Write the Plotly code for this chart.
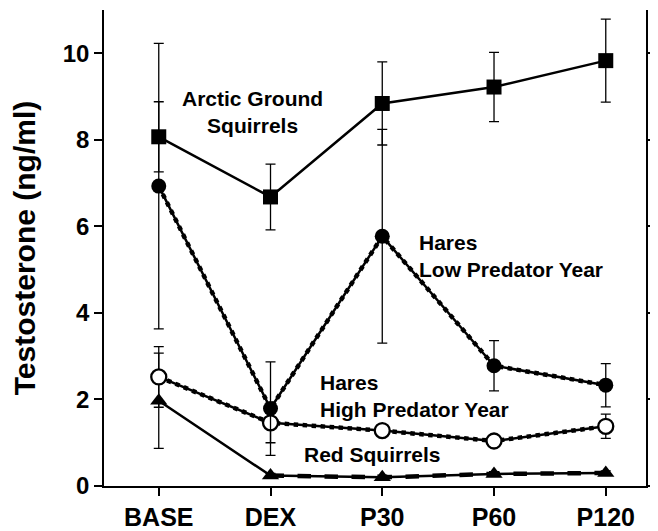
import plotly.graph_objects as go

categories = ["BASE", "DEX", "P30", "P60", "P120"]

arctic_gs = [8.07, 6.68, 8.84, 9.22, 9.83]
arctic_gs_err = [0.81, 0.76, 0.96, 0.80, 0.96]

hares_low = [6.93, 1.79, 5.77, 2.78, 2.33]
hares_low_err = [3.30, 1.08, 2.47, 0.58, 0.50]

hares_high = [2.52, 1.46, 1.28, 1.04, 1.38]
hares_high_err = [0.70, 0.46, 0.10, 0.10, 0.28]

red_sq = [1.97, 0.24, 0.20, 0.28, 0.30]
red_sq_err = [1.10, 0.05, 0.05, 0.05, 0.05]

y_ticks = [0, 2, 4, 6, 8, 10]

FONT = "Liberation Sans, Arial, Helvetica, sans-serif"
BLACK = "#000000"

fig = go.Figure()

def err(vals):
    return dict(type="data", array=vals, visible=True, color=BLACK, thickness=1.3, width=5)

# hatched "shadow" lines behind the hare / red squirrel curves
fig.add_trace(go.Scatter(x=categories, y=hares_low, mode="lines",
                         line=dict(color=BLACK, width=4.5, dash="dot"), hoverinfo="skip", showlegend=False))
fig.add_trace(go.Scatter(x=categories, y=hares_high, mode="lines",
                         line=dict(color=BLACK, width=4.5, dash="dot"), hoverinfo="skip", showlegend=False))
fig.add_trace(go.Scatter(x=categories, y=[None] + red_sq[1:], mode="lines",
                         line=dict(color=BLACK, width=4.5, dash="dash"), hoverinfo="skip", showlegend=False))

fig.add_trace(go.Scatter(
    x=categories, y=red_sq, mode="lines+markers", name="Red Squirrels",
    line=dict(color=BLACK, width=2.5),
    marker=dict(symbol="triangle-up", size=15, color=BLACK),
    error_y=err(red_sq_err), showlegend=False))

fig.add_trace(go.Scatter(
    x=categories, y=hares_high, mode="lines+markers", name="Hares High Predator Year",
    line=dict(color=BLACK, width=2.5),
    marker=dict(symbol="circle", size=15, color="white", line=dict(color=BLACK, width=2.3)),
    error_y=err(hares_high_err), showlegend=False))

fig.add_trace(go.Scatter(
    x=categories, y=hares_low, mode="lines+markers", name="Hares Low Predator Year",
    line=dict(color=BLACK, width=2.5),
    marker=dict(symbol="circle", size=15, color=BLACK),
    error_y=err(hares_low_err), showlegend=False))

fig.add_trace(go.Scatter(
    x=categories, y=arctic_gs, mode="lines+markers", name="Arctic Ground Squirrels",
    line=dict(color=BLACK, width=2.5),
    marker=dict(symbol="square", size=15, color=BLACK),
    error_y=err(arctic_gs_err), showlegend=False))

ann_font = dict(family=FONT, size=21, color=BLACK, weight="bold")
fig.add_annotation(x=0.835, y=8.64, text="Arctic Ground<br>Squirrels", showarrow=False,
                   xanchor="center", yanchor="middle", align="center", font=ann_font)
fig.add_annotation(x=2.31, y=5.32, text="Hares<br>Low Predator Year", showarrow=False,
                   xanchor="left", yanchor="middle", align="left", font=ann_font)
fig.add_annotation(x=1.425, y=2.08, text="Hares<br>High Predator Year", showarrow=False,
                   xanchor="left", yanchor="middle", align="left", font=ann_font)
fig.add_annotation(x=1.282, y=0.72, text="Red Squirrels", showarrow=False,
                   xanchor="left", yanchor="middle", align="left", font=ann_font)

fig.update_layout(
    template="none",
    width=658, height=531,
    margin=dict(l=96, r=20, t=2, b=53, autoexpand=False),
    paper_bgcolor="white", plot_bgcolor="white",
    font=dict(family=FONT, color=BLACK),
    showlegend=False,
)
fig.update_xaxes(
    type="category", range=[-0.49, 4.36], automargin=False,
    showline=True, linecolor=BLACK, linewidth=1.5,
    ticks="outside", ticklen=8, tickwidth=1.5, tickcolor=BLACK,
    showgrid=False, zeroline=False, mirror=False,
    tickfont=dict(family=FONT, size=25, color=BLACK, weight="bold"),
)
fig.update_yaxes(
    range=[0, 11], tickvals=y_ticks, ticktext=[str(v) for v in y_ticks], automargin=False,
    showline=True, linecolor=BLACK, linewidth=1.5, mirror="ticks",
    ticks="outside", ticklen=8, tickwidth=1.5, tickcolor=BLACK,
    showgrid=False, zeroline=False,
    tickfont=dict(family=FONT, size=24, color=BLACK, weight="bold"),
    title=dict(text="Testosterone (ng/ml)",
               font=dict(family=FONT, size=30, color=BLACK, weight="bold")),
)

fig.write_html("out.html")
